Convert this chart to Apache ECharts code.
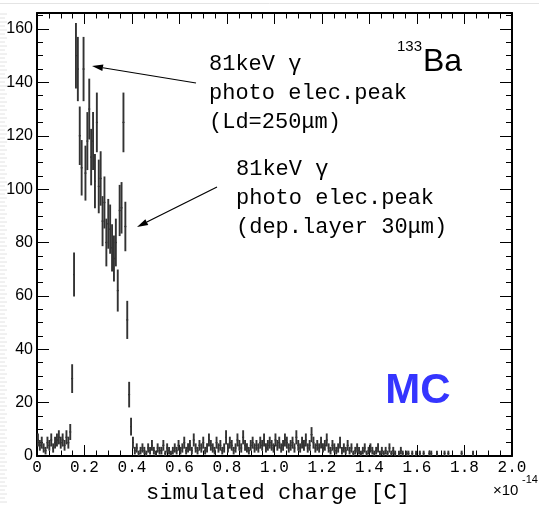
<!DOCTYPE html>
<html><head><meta charset="utf-8">
<script src="https://cdn.jsdelivr.net/npm/echarts@6/dist/echarts.min.js"></script>
<style>html,body{margin:0;padding:0;background:#fff}#c{width:539px;height:505px}</style>
</head><body><div id="c"></div>
<script>
// histogram binning (units of 1e-14 C)
const binStart = 0;
const binWidth = 0.008;
// counts per bin (250 bins, 0 .. 2.0)
const counts0to02   = [6,4,5,3,2,5,4,6,3,5,6,7,5,6,4,7,5,9,29,68,150,145,120,108,145];
const counts02to04  = [106,118,130,112,118,103,125,101,104,88,95,80,87,85,78,74,80,62,92,93,125,86,51,23,11];
const counts04to06  = [5,2,3,1,2,3,2,1,3,2,4,2,1,3,2,2,4,1,3,2,1,2,3,2,4];
const counts06to08  = [2,3,5,2,3,4,2,6,3,2,4,3,5,2,3,6,4,3,2,5,3,4,2,3,7];
const counts08to10  = [3,5,4,2,3,6,4,3,7,4,3,2,4,5,3,4,3,5,4,6,3,4,5,4,3];
const counts10to12  = [6,4,5,3,4,6,5,3,4,5,3,7,4,3,5,4,6,3,4,8,5,3,4,3,5];
const counts12to14  = [3,4,6,3,2,4,3,2,3,5,2,3,2,4,2,3,1,2,3,2,1,2,3,1,2];
const counts14to16  = [3,2,1,2,3,1,2,1,2,1,3,1,2,1,0,1,2,1,0,1,1,0,1,0,1];
const counts16to18  = [0,1,0,1,0,0,1,1,0,0,1,0,0,0,1,0,1,0,0,0,0,0,0,1,0];
const counts18to20  = [0,0,0,0,1,0,0,0,0,0,0,0,0,0,0,0,0,0,0,0,0,0,0,0,0];

const xTickLabels = ['0','0.2','0.4','0.6','0.8','1.0','1.2','1.4','1.6','1.8','2.0'];
const yTickLabels = ['0','20','40','60','80','100','120','140','160'];
const xMin = 0, xMax = 2.0, xStep = 0.2;
const yMin = 0, yMax = 166, yStep = 20;

const counts = [].concat(counts0to02, counts02to04, counts04to06, counts06to08, counts08to10,
  counts10to12, counts12to14, counts14to16, counts16to18, counts18to20);
const histData = [];
counts.forEach((c, i) => {
  if (c > 0) histData.push([binStart + i * binWidth, binStart + (i + 1) * binWidth, c]);
});

function renderItem(params, api) {
  const x0 = api.value(0), x1 = api.value(1), y = api.value(2);
  const e = Math.sqrt(y);
  const a = api.coord([x0, y]), b = api.coord([x1, y]);
  const xc = (x0 + x1) / 2;
  const t = api.coord([xc, y + e]), u = api.coord([xc, Math.max(0, y - e)]);
  return {
    type: 'group',
    children: [
      { type: 'line', shape: { x1: a[0], y1: a[1], x2: b[0], y2: b[1] }, style: { stroke: '#111', lineWidth: 1.3 } },
      { type: 'line', shape: { x1: t[0], y1: t[1], x2: u[0], y2: u[1] }, style: { stroke: '#333', lineWidth: 1.9 } }
    ]
  };
}

const mono = '"Liberation Mono", "DejaVu Sans Mono", monospace';
const sans = '"Liberation Sans", Arial, sans-serif';

function xAxisCfg(pos, showLabel) {
  return {
    type: 'value', position: pos, min: xMin, max: xMax, interval: xStep,
    axisLine: { show: true, onZero: false, lineStyle: { color: '#000', width: 2 } },
    axisTick: { show: true, inside: true, length: 11, lineStyle: { color: '#000', width: 1 } },
    minorTick: { show: true, splitNumber: 4, length: 5.5, lineStyle: { color: '#000', width: 1 } },
    splitLine: { show: false },
    axisLabel: {
      show: showLabel, margin: 4, color: '#000', fontFamily: mono, fontSize: 16,
      formatter: v => { const k = Math.round(v / xStep); return Math.abs(v - k * xStep) < 1e-6 ? xTickLabels[k] : ''; }
    }
  };
}
function yAxisCfg(pos, showLabel) {
  return {
    type: 'value', position: pos, min: yMin, max: yMax, interval: yStep,
    axisLine: { show: true, onZero: false, lineStyle: { color: '#000', width: 2 } },
    axisTick: { show: true, inside: true, length: 12, lineStyle: { color: '#000', width: 1 } },
    minorTick: { show: true, splitNumber: 4, length: 6, lineStyle: { color: '#000', width: 1 } },
    splitLine: { show: false },
    axisLabel: {
      show: showLabel, margin: 4, color: '#000', fontFamily: sans, fontSize: 16, showMaxLabel: false,
      formatter: v => { const k = Math.round(v / yStep); return Math.abs(v - k * yStep) < 1e-6 ? yTickLabels[k] : ''; }
    }
  };
}

function arrow(x1, y1, x2, y2) {
  const ang = Math.atan2(y2 - y1, x2 - x1);
  const L = 11, W = 3.2;
  const bx = x2 - L * Math.cos(ang), by = y2 - L * Math.sin(ang);
  const px = -Math.sin(ang) * W, py = Math.cos(ang) * W;
  return [
    { type: 'line', shape: { x1: x1, y1: y1, x2: bx, y2: by }, style: { stroke: '#000', lineWidth: 1.2 } },
    { type: 'polygon', shape: { points: [[x2, y2], [bx + px, by + py], [bx - px, by - py]] }, style: { fill: '#000' } }
  ];
}
function txt(s, x, y, font, opts) {
  return Object.assign({ type: 'text', x: x, y: y, style: Object.assign({ text: s, font: font, fill: '#000', textAlign: 'left', textVerticalAlign: 'middle' }, opts || {}) });
}

const deco = [];
for (let y = 14; y < 505; y += 4) {
  deco.push({ type: 'line', shape: { x1: 0, y1: y, x2: (Math.floor(y / 4) % 2 ? 7 : 5), y2: y }, style: { stroke: '#e2e2e2', lineWidth: 1 } });
}
deco.push({ type: 'line', shape: { x1: 0, y1: 3.5, x2: 539, y2: 3.5 }, style: { stroke: '#e4e4e4', lineWidth: 1 } });

const annFont = '22px ' + mono;
const graphics = [].concat(
  deco,
  arrow(196, 83, 92, 66),
  arrow(217, 187, 137, 227),
  [
    txt('81keV γ', 209, 64, annFont),
    txt('photo elec.peak', 209, 93, annFont),
    txt('(Ld=250μm)', 209, 122, annFont),
    txt('81keV γ', 236, 169, annFont),
    txt('photo elec.peak', 236, 198, annFont),
    txt('(dep.layer 30μm)', 236, 227, annFont),
    txt('133', 397, 47, '15px ' + sans),
    txt('Ba', 423, 62, '32px ' + sans),
    txt('MC', 418, 391, 'bold 42px ' + sans, { fill: '#3535ff', textAlign: 'center' }),
    txt('simulated charge [C]', 278, 493, annFont, { textAlign: 'center' }),
    txt('×10', 493, 491, '15px ' + sans),
    txt('-14', 522, 480, '11px ' + sans)
  ]
);

const chart = echarts.init(document.getElementById('c'), null, { renderer: 'canvas' });
chart.setOption({
  animation: false,
  backgroundColor: '#fff',
  grid: { left: 37, right: 27, top: 13, bottom: 49, containLabel: false },
  xAxis: [xAxisCfg('bottom', true), xAxisCfg('top', false)],
  yAxis: [yAxisCfg('left', true), yAxisCfg('right', false)],
  series: [{
    type: 'custom', renderItem: renderItem, clip: true,
    encode: { x: [0, 1], y: 2 },
    data: histData
  }],
  graphic: graphics
});
</script></body></html>
